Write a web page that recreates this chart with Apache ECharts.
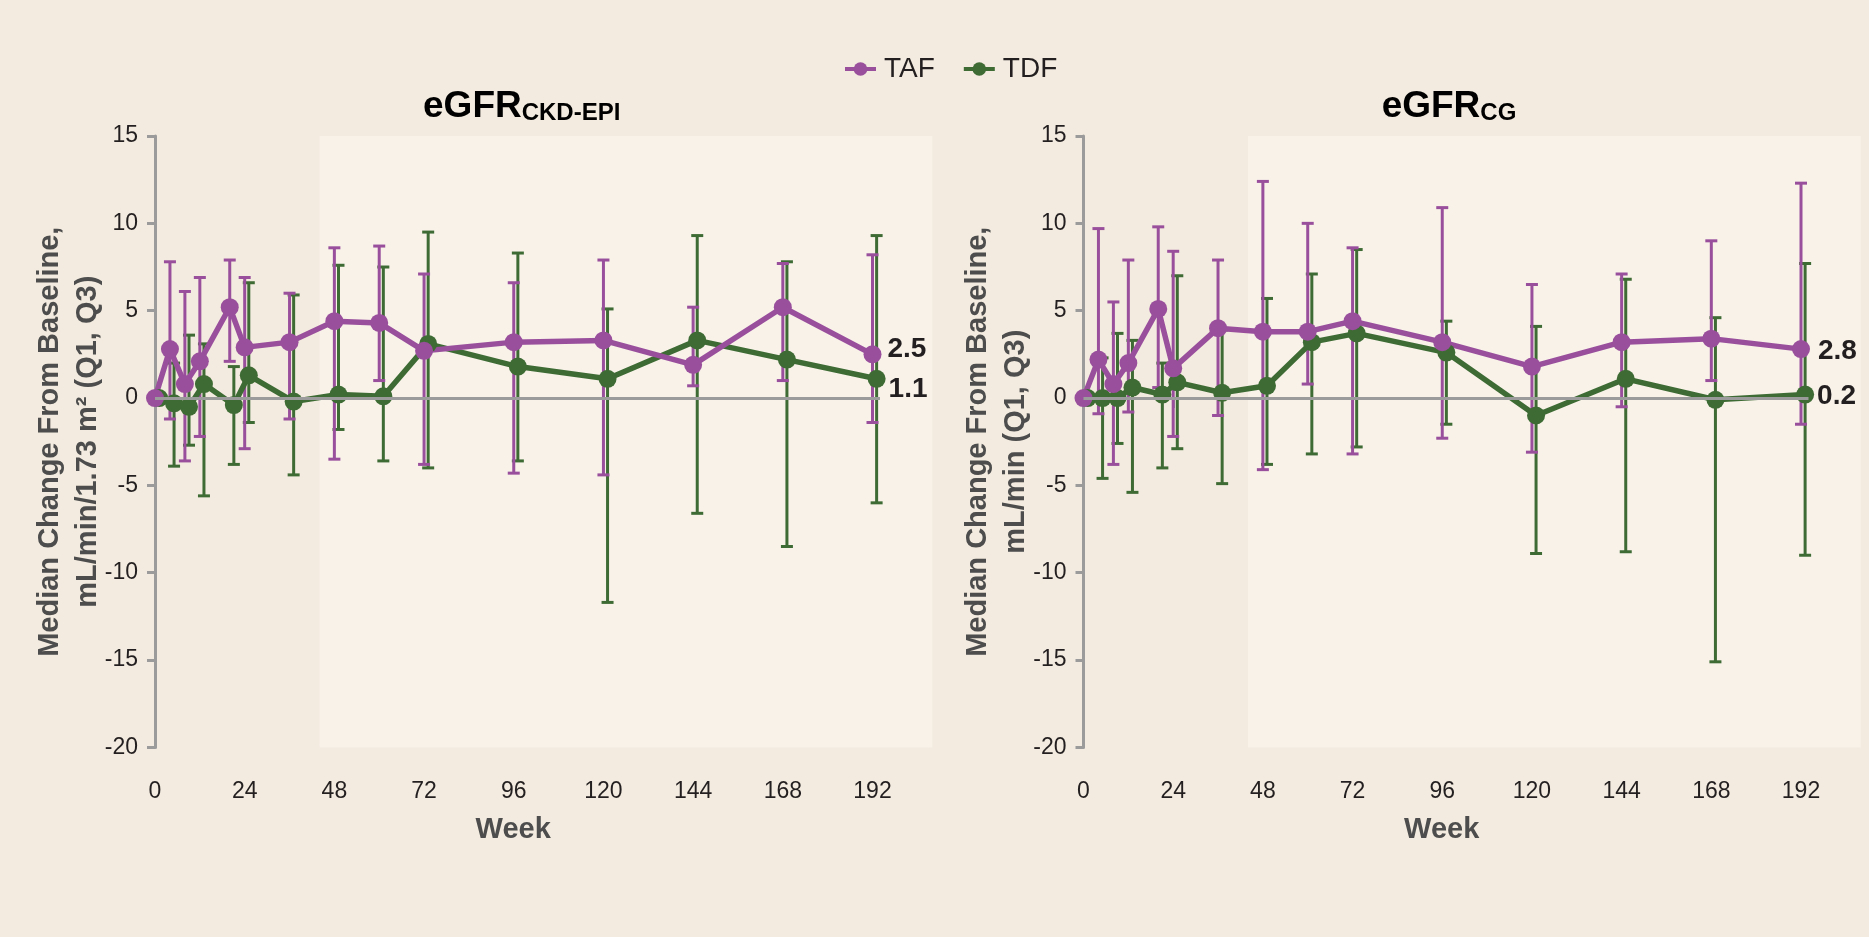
<!DOCTYPE html>
<html><head><meta charset="utf-8">
<script src="https://cdn.jsdelivr.net/npm/echarts@6/dist/echarts.min.js"></script>
<style>html,body{margin:0;padding:0;background:#f3ebdf;} #c{width:1869px;height:937px;}</style>
</head><body><div id="c"></div>
<script>
// ---------- data ----------
const WEEKS = [0, 4, 8, 12, 20, 24, 36, 48, 60, 72, 96, 120, 144, 168, 192];
const WEEK_TICKS = [0, 24, 48, 72, 96, 120, 144, 168, 192];

// eGFR CKD-EPI
const CKD_TAF_MED = [0, 2.8, 0.8, 2.1, 5.2, 2.9, 3.2, 4.4, 4.3, 2.7, 3.2, 3.3, 1.9, 5.2, 2.5];
const CKD_TAF_Q1  = [null, -1.2, -3.6, -2.2, 2.1, -2.9, -1.2, -3.5, 1.0, -3.8, -4.3, -4.4, 0.7, 1.0, -1.4];
const CKD_TAF_Q3  = [null, 7.8, 6.1, 6.9, 7.9, 6.9, 6.0, 8.6, 8.7, 7.1, 6.6, 7.9, 5.2, 7.7, 8.2];
const CKD_TDF_MED = [0, -0.3, -0.5, 0.8, -0.4, 1.3, -0.2, 0.2, 0.1, 3.1, 1.8, 1.1, 3.3, 2.2, 1.1];
const CKD_TDF_Q1  = [null, -3.9, -2.7, -5.6, -3.8, -1.4, -4.4, -1.8, -3.6, -4.0, -3.6, -11.7, -6.6, -8.5, -6.0];
const CKD_TDF_Q3  = [null, 2.0, 3.6, 3.1, 1.8, 6.6, 5.9, 7.6, 7.5, 9.5, 8.3, 5.1, 9.3, 7.8, 9.3];

// eGFR CG
const CG_TAF_MED = [0, 2.2, 0.8, 2.0, 5.1, 1.7, 4.0, 3.8, 3.8, 4.4, 3.2, 1.8, 3.2, 3.4, 2.8];
const CG_TAF_Q1  = [null, -0.9, -3.8, -0.8, 0.6, -2.2, -1.0, -4.1, 0.8, -3.2, -2.3, -3.1, -0.5, 1.0, -1.5];
const CG_TAF_Q3  = [null, 9.7, 5.5, 7.9, 9.8, 8.4, 7.9, 12.4, 10.0, 8.6, 10.9, 6.5, 7.1, 9.0, 12.3];
const CG_TDF_MED = [0, 0.0, 0.0, 0.6, 0.2, 0.9, 0.3, 0.7, 3.2, 3.7, 2.6, -1.0, 1.1, -0.1, 0.2];
const CG_TDF_Q1  = [null, -4.6, -2.6, -5.4, -4.0, -2.9, -4.9, -3.8, -3.2, -2.8, -1.5, -8.9, -8.8, -15.1, -9.0];
const CG_TDF_Q3  = [null, 2.3, 3.7, 3.3, 2.0, 7.0, 3.9, 5.7, 7.1, 8.5, 4.4, 4.1, 6.8, 4.6, 7.7];

const Y_TICKS = { min: -20, max: 15, interval: 5 };
const X_RANGE = { min: 0, max: 208 };
const SHADE_FROM = 44;     // lighter panel starts here (week)
const ZERO_LINE_END = 194; // reference line at 0 stops here (week)

// ---------- style ----------
const FONT = "'Liberation Sans', Arial, Helvetica, sans-serif";
const PURPLE = '#994f9c';
const GREEN = '#3e6b34';
const AXIS_GRAY = '#9b9b9b';
const TEXT = '#231f20';
const NAME_GRAY = '#4d4d4d';
const TDF_DODGE = 1.1;

const chart = echarts.init(document.getElementById('c'), null, { renderer: 'canvas' });

const panels = [
  { left: 155, width: 777.3, yName: 'Median Change From Baseline,\nmL/min/1.73 m\u00B2 (Q1, Q3)',
    taf: [CKD_TAF_MED, CKD_TAF_Q1, CKD_TAF_Q3], tdf: [CKD_TDF_MED, CKD_TDF_Q1, CKD_TDF_Q3],
    tafLabel: { distance: 6, offset: [0, -5] }, tdfLabel: { distance: 3, offset: [0, 10] } },
  { left: 1083.5, width: 777.3, yName: 'Median Change From Baseline,\nmL/min (Q1, Q3)',
    taf: [CG_TAF_MED, CG_TAF_Q1, CG_TAF_Q3], tdf: [CG_TDF_MED, CG_TDF_Q1, CG_TDF_Q3],
    tafLabel: { distance: 8, offset: [0, 2] }, tdfLabel: { distance: 3, offset: [0, 2] } }
];

const GRID_TOP = 136, GRID_H = 611.4;

function errorBarItem(color) {
  return function (params, api) {
    const x = api.value(0), lo = api.value(1), hi = api.value(2);
    const p1 = api.coord([x, lo]), p2 = api.coord([x, hi]);
    const hw = 6;
    const style = { stroke: color, lineWidth: 3, fill: null };
    return {
      type: 'group', children: [
        { type: 'line', shape: { x1: p1[0], y1: p1[1], x2: p2[0], y2: p2[1] }, style: style },
        { type: 'line', shape: { x1: p1[0] - hw, y1: p1[1], x2: p1[0] + hw, y2: p1[1] }, style: style },
        { type: 'line', shape: { x1: p2[0] - hw, y1: p2[1], x2: p2[0] + hw, y2: p2[1] }, style: style }
      ]
    };
  };
}

function lineData(med, dodge, labelCfg) {
  const last = med.length - 1;
  return WEEKS.map((w, i) => i === last
    ? { value: [w + dodge, med[i]], label: Object.assign({ show: true, position: 'right' }, labelCfg) }
    : [w + dodge, med[i]]);
}
function errData(q1, q3, dodge) {
  return WEEKS.map((w, i) => q1[i] == null ? null : [w + dodge, q1[i], q3[i]]).filter(Boolean);
}

const grids = [], xAxes = [], yAxes = [], series = [];
panels.forEach((p, k) => {
  grids.push({ left: p.left, top: GRID_TOP, width: p.width, height: GRID_H, outerBoundsMode: 'none', containLabel: false });
  xAxes.push({
    gridIndex: k, type: 'value', min: X_RANGE.min, max: X_RANGE.max, interval: 24,
    axisLine: { show: false },
    axisTick: { show: true, length: 10, lineStyle: { color: AXIS_GRAY, width: 3 }, customValues: WEEK_TICKS },
    axisLabel: { margin: 33, fontSize: 23, color: TEXT, fontFamily: FONT, customValues: WEEK_TICKS },
    splitLine: { show: false },
    name: 'Week', nameLocation: 'middle', nameGap: 68, nameMoveOverlap: false,
    nameTextStyle: { fontSize: 29, fontWeight: 'bold', color: NAME_GRAY, fontFamily: FONT, padding: [0, 61, 0, 0] }
  });
  yAxes.push({
    gridIndex: k, type: 'value', min: Y_TICKS.min, max: Y_TICKS.max, interval: Y_TICKS.interval,
    axisLine: { show: true, lineStyle: { color: AXIS_GRAY, width: 3 } },
    axisTick: { show: true, length: 8, lineStyle: { color: AXIS_GRAY, width: 3 } },
    axisLabel: { margin: 17, fontSize: 23, color: TEXT, fontFamily: FONT },
    splitLine: { show: false },
    name: p.yName, nameLocation: 'middle', nameGap: 48.5, nameMoveOverlap: false,
    nameTextStyle: { fontSize: 29, fontWeight: 'bold', color: NAME_GRAY, fontFamily: FONT, lineHeight: 38 }
  });
  // background panel + zero line
  series.push({
    name: 'bg' + k, type: 'line', xAxisIndex: k, yAxisIndex: k, data: [], silent: true,
    markArea: { silent: true, itemStyle: { color: '#f8f2e9' },
      data: [[{ xAxis: SHADE_FROM }, { xAxis: X_RANGE.max }]] },
    markLine: { silent: true, symbol: ['none', 'none'], label: { show: false },
      lineStyle: { color: AXIS_GRAY, width: 3, type: 'solid' },
      data: [[{ coord: [0, 0] }, { coord: [ZERO_LINE_END, 0] }]] }
  });
  const labelStyle = { fontSize: 28, fontWeight: 'bold', color: TEXT, fontFamily: FONT,
    formatter: (prm) => prm.value[1].toFixed(1) };
  [['TDF', p.tdf, GREEN, TDF_DODGE, p.tdfLabel], ['TAF', p.taf, PURPLE, 0, p.tafLabel]].forEach(([nm, arr, col, dg, lab]) => {
    series.push({
      name: nm + ' IQR', type: 'custom', xAxisIndex: k, yAxisIndex: k, coordinateSystem: 'cartesian2d',
      renderItem: errorBarItem(col), encode: { x: 0, y: [1, 2] }, data: errData(arr[1], arr[2], dg), silent: true
    });
    series.push({
      name: nm, type: 'line', xAxisIndex: k, yAxisIndex: k,
      data: lineData(arr[0], dg, Object.assign({}, labelStyle, lab)),
      symbol: 'circle', symbolSize: 18, color: col,
      itemStyle: { color: col }, lineStyle: { color: col, width: 5.5 }
    });
  });
});

const titleRich = {
  a: { fontSize: 37, fontWeight: 'bold', color: TEXT, fontFamily: FONT, lineHeight: 40, verticalAlign: 'bottom' },
  b: { fontSize: 24, fontWeight: 'bold', color: TEXT, fontFamily: FONT, lineHeight: 25, verticalAlign: 'bottom' }
};

chart.setOption({
  animation: false,
  backgroundColor: '#f3ebdf',
  textStyle: { fontFamily: FONT },
  legend: {
    data: ['TAF', 'TDF'], left: 838, top: 50, itemWidth: 31, itemHeight: 17, itemGap: 27,
    textStyle: { fontSize: 28, color: TEXT, fontFamily: FONT, padding: [0, 0, 0, 3] },
    lineStyle: { width: 4 }
  },
  graphic: [
    { type: 'text', x: 521.7, y: 105, style: { text: '{a|eGFR}{b|CKD-EPI}', rich: titleRich, align: 'center', verticalAlign: 'middle' } },
    { type: 'text', x: 1449, y: 105, style: { text: '{a|eGFR}{b|CG}', rich: titleRich, align: 'center', verticalAlign: 'middle' } }
  ],
  grid: grids, xAxis: xAxes, yAxis: yAxes, series: series
});
</script>
</body></html>
